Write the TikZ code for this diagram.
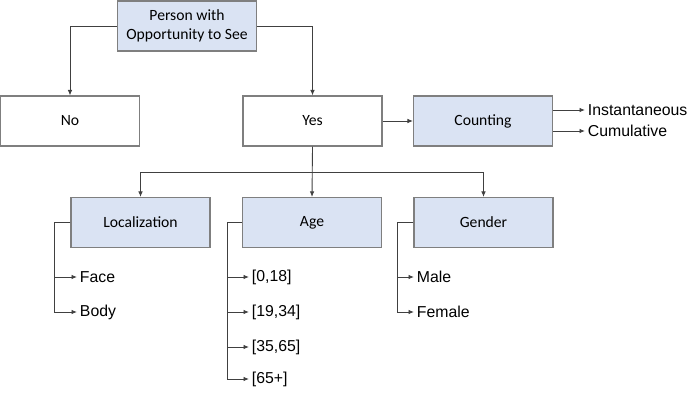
\documentclass[tikz,border=0pt]{standalone}
\usepackage{fontspec}
\setmainfont{Liberation Sans}
\newfontfamily\boxfont{Carlito}
\usetikzlibrary{arrows.meta}
\definecolor{boxblue}{HTML}{DAE3F3}
\definecolor{boxline}{HTML}{7F7F7F}
\definecolor{wire}{HTML}{404040}
\tikzset{
  catbox/.style={draw=boxline,fill=boxblue,line width=.6pt,minimum width=2.78cm,minimum height=1.0cm,
    align=center,font=\boxfont\fontsize{8.9}{11}\selectfont,inner sep=1pt},
  plainbox/.style={catbox,fill=white},
  leaf/.style={anchor=west,inner sep=1.5pt,font=\fontsize{9}{11}\selectfont},
  wire/.style={draw=wire,line width=.5pt,-{Latex[length=1.1mm,width=.9mm]}}
}
\begin{document}
\begin{tikzpicture}
\useasboundingbox (0,0) rectangle (14,-8);
% boxes
\node[catbox] (ots) at (3.74,-0.52) {Person with\\Opportunity to See};
\node[plainbox] (no) at (1.40,-2.42) {No};
\node[plainbox] (yes) at (6.25,-2.42) {Yes};
\node[catbox] (cnt) at (9.66,-2.42) {Counting};
\node[catbox] (loc) at (2.81,-4.45) {Localization};
\node[catbox] (age) at (6.24,-4.45) {Age};
\node[catbox] (gen) at (9.67,-4.45) {Gender};
% leaves
\node[leaf] (inst) at (11.70,-2.20) {Instantaneous};
\node[leaf] (cum) at (11.70,-2.62) {Cumulative};
\node[leaf] (face) at (1.54,-5.54) {Face};
\node[leaf] (body) at (1.54,-6.24) {Body};
\node[leaf] (a1) at (4.98,-5.54) {[0,18]};
\node[leaf] (a2) at (4.98,-6.24) {[19,34]};
\node[leaf] (a3) at (4.98,-6.94) {[35,65]};
\node[leaf] (a4) at (4.98,-7.58) {[65+]};
\node[leaf] (male) at (8.28,-5.54) {Male};
\node[leaf] (fem) at (8.28,-6.24) {Female};
\coordinate (bus) at (6.25,-3.44);
% connectors
\draw[wire] (ots.west) -| (no.north);
\draw[wire] (ots.east) -| (yes.north);
\draw[wire] (yes.east) -- (cnt.west);
\draw[wire] (cnt.east |- inst.west) -- (inst.west);
\draw[wire] (cnt.east |- cum.west) -- (cum.west);
\draw[wire] (yes.south) -- (age.north);
\draw[wire] (bus) -| (loc.north);
\draw[wire] (bus) -| (gen.north);
\draw[wire] (loc.west) -- ++(-0.32,0) |- (face.west);
\draw[wire] (loc.west) -- ++(-0.32,0) |- (body.west);
\draw[wire] (age.west) -- ++(-0.30,0) |- (a1.west);
\draw[wire] (age.west) -- ++(-0.30,0) |- (a2.west);
\draw[wire] (age.west) -- ++(-0.30,0) |- (a3.west);
\draw[wire] (age.west) -- ++(-0.30,0) |- (a4.west);
\draw[wire] (gen.west) -- ++(-0.32,0) |- (male.west);
\draw[wire] (gen.west) -- ++(-0.32,0) |- (fem.west);
\end{tikzpicture}
\end{document}
